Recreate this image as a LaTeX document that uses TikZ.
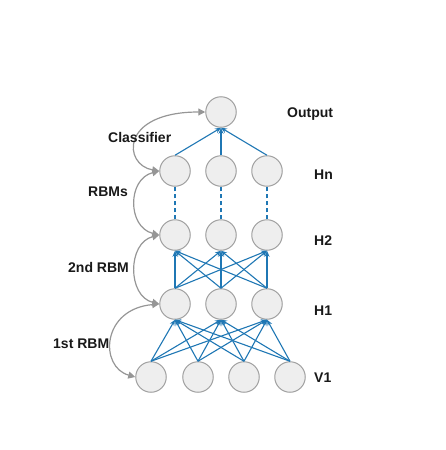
\documentclass[tikz,border=0pt]{standalone}
\usepackage{fontspec}
\setmainfont{Liberation Sans}
\usetikzlibrary{arrows.meta}
\definecolor{linkblue}{RGB}{31,119,180}
\definecolor{unitfill}{RGB}{238,238,238}
\definecolor{unitrim}{RGB}{160,160,160}
\definecolor{loopgray}{RGB}{150,150,150}
\definecolor{tagtext}{RGB}{25,25,25}
\begin{document}
\begin{tikzpicture}[x = 1pt, y = -1pt,
    unit/.style = {circle, draw = unitrim, fill = unitfill, line width = 1pt, minimum size = 30.5pt, inner sep = 0pt},
    link/.style = {linkblue, line width = 1.1pt, -{Stealth[length = 6pt, width = 5pt]}},
    skip/.style = {linkblue, line width = 1.1pt, dash pattern = on 4pt off 3pt},
    stack/.style = {loopgray, line width = 1.2pt, {Triangle[length = 7pt, width = 7pt]}-{Triangle[length = 7pt, width = 7pt]}},
    tag/.style = {anchor = base west, inner sep = 0pt, text = tagtext, font = \fontsize{14}{16}\selectfont\bfseries}]
    \useasboundingbox (0, 0) rectangle (445, 450);
    % units
    \node [unit] (out) at (221, 112) {};
    \foreach \i/\x in {1/175, 2/221, 3/267} {
        \node [unit] (hn\i) at (\x, 171) {};
        \node [unit] (htwo\i) at (\x, 235) {};
        \node [unit] (hone\i) at (\x, 304) {};
    }
    \foreach \i/\x in {1/151, 2/198, 3/244, 4/290}
        \node [unit] (v\i) at (\x, 377) {};
    % weights
    \foreach \i in {1, 2, 3} {
        \draw [link] (hn\i.north) -- (out.south);
        \draw [skip] (htwo\i.north) -- (hn\i.south);
        \foreach \j in {1, 2, 3}
            \draw [link] (hone\i.north) -- (htwo\j.south);
        \foreach \j in {1, 2, 3, 4}
            \draw [link] (v\j.north) -- (hone\i.south);
    }
    % stacking loops
    \draw [stack] (hn1.west) .. controls +(-36, -6) and +(-86, 0) .. (out.west);
    \draw [stack] (htwo1.west) .. controls +(-32, -8) and +(-32, 8) .. (hn1.west);
    \draw [stack] (hone1.west) .. controls +(-32, -8) and +(-32, 8) .. (htwo1.west);
    \draw [stack] (v1.west) .. controls +(-36, -10) and +(-58, 5) .. (hone1.west);
    % labels
    \node [tag] (outtag) at (287, 117) {Output};
    \node [tag] (hntag) at (314, 179) {Hn};
    \node [tag] (htwotag) at (314, 245) {H2};
    \node [tag] (honetag) at (314, 315) {H1};
    \node [tag] (vtag) at (314, 382) {V1};
    \node [tag] (cltag) at (108, 142) {Classifier};
    \node [tag] (rbmstag) at (88, 196) {RBMs};
    \node [tag] (secondtag) at (68, 272) {2nd RBM};
    \node [tag] (firsttag) at (53, 348) {1st RBM};
\end{tikzpicture}
\end{document}
